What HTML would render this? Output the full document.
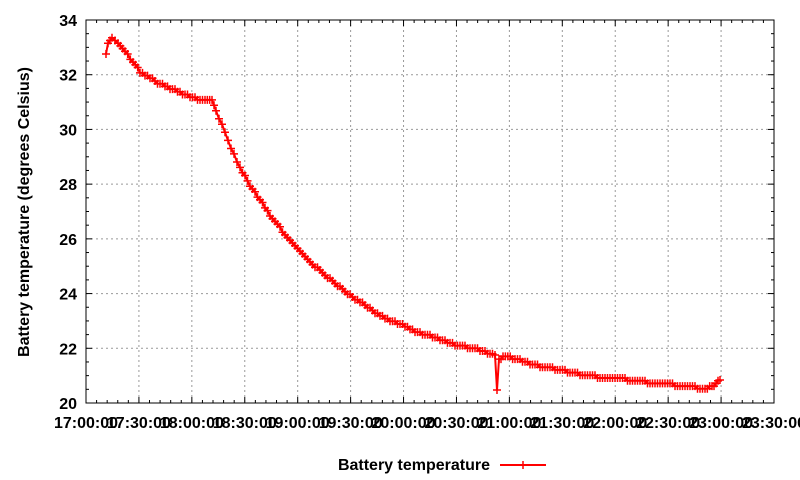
<!DOCTYPE html>
<html><head><style>body{margin:0;background:#fff}svg{display:block;font-family:"Liberation Sans",sans-serif;font-weight:bold}</style></head><body>
<svg id="s" width="800" height="480" xmlns="http://www.w3.org/2000/svg">
<g id="grid" stroke="#999" stroke-dasharray="2,3" stroke-width="1"></g>
<rect x="86" y="20" width="688" height="383" fill="none" stroke="#000"/>
<g id="ticks" stroke="#000"></g>
<g id="labels" font-size="16" fill="#000"></g>
<text transform="translate(29,212) rotate(-90)" text-anchor="middle" font-size="16">Battery temperature (degrees Celsius)</text>
<text x="490" y="470" text-anchor="end" font-size="16">Battery temperature</text>
<line x1="500" y1="465" x2="546" y2="465" stroke="red" stroke-width="2"/>
<path d="M519 465h8M523 461v8" stroke="red" stroke-width="1.5"/>
<polyline id="c" fill="none" stroke="red" stroke-width="2"/>
<path id="m" stroke="red" stroke-width="1.5" fill="none"/>
</svg>
<script>
var ns="http://www.w3.org/2000/svg";
function el(p,t,a,txt){var e=document.createElementNS(ns,t);for(var k in a)e.setAttribute(k,a[k]);if(txt)e.textContent=txt;document.getElementById(p).appendChild(e);}
var L=86,R=774,T=20,B=403;
for(var i=0;i<=7;i++){var y=B-i*(B-T)/7;
 if(i>0&&i<7)el("grid","line",{x1:L,x2:R,y1:y,y2:y});
 el("ticks","line",{x1:L,x2:L+6,y1:y,y2:y});el("ticks","line",{x1:R,x2:R-6,y1:y,y2:y});
 if(i<7)for(var j=1;j<4;j++){var yy=y-j*(B-T)/28;el("ticks","line",{x1:L,x2:L+3,y1:yy,y2:yy});el("ticks","line",{x1:R,x2:R-3,y1:yy,y2:yy});}
 el("labels","text",{x:L-9,y:y+6,"text-anchor":"end"},String(20+2*i));}
var xl=["17:00:00","17:30:00","18:00:00","18:30:00","19:00:00","19:30:00","20:00:00","20:30:00","21:00:00","21:30:00","22:00:00","22:30:00","23:00:00","23:30:00"];
var dx=(R-L)/13;
for(var i=0;i<=13;i++){var x=L+i*dx;
 if(i>0&&i<13)el("grid","line",{x1:x,x2:x,y1:T,y2:B});
 el("ticks","line",{x1:x,x2:x,y1:B,y2:B-6});el("ticks","line",{x1:x,x2:x,y1:T,y2:T+6});
 if(i<13)for(var j=1;j<5;j++){var xx=x+j*dx/5;el("ticks","line",{x1:xx,x2:xx,y1:B,y2:B-3});el("ticks","line",{x1:xx,x2:xx,y1:T,y2:T+3});}
 el("labels","text",{x:x,y:428,"text-anchor":"middle"},xl[i]);}
var P=[[106,53],[108,44],[112,38],[118,42],[125,52],[133,62],[140,72],[150,78],[160,84],[175,90],[185,95],[195,98],[205,101],[212,99],[216,112],[222,123],[228,140],[234,155],[240,168],[250,185],[260,200],[270,215],[280,228],[290,240],[300,252],[310,262],[320,270],[330,279],[340,287],[350,295],[360,302],[370,309],[380,315],[390,320],[400,324],[410,329],[420,333],[430,336],[440,339],[450,343],[460,346],[475,348],[485,352],[495,355],[497,390],[499,360],[503,357],[515,358],[525,362],[540,366],[555,369],[570,372],[585,375],[600,377],[615,378],[630,380],[645,382],[660,383],[675,385],[690,387],[705,388],[712,387],[716,384],[720,380]];
var pts=[],md="";
for(var i=0;i<P.length-1;i++){var a=P[i],b=P[i+1],n=Math.max(1,Math.round(Math.abs(b[0]-a[0])/2.5));
 if(i==43||i==44){pts.push(a);md+="M"+(a[0]-4)+" "+a[1]+"h8M"+a[0]+" "+(a[1]-4)+"v8";continue;}
 for(var k=0;k<n;k++){var x=a[0]+(b[0]-a[0])*k/n,y=a[1]+(b[1]-a[1])*k/n;y=Math.round(y/2.7)*2.7;pts.push([x,y]);md+="M"+(x-4)+" "+y+"h8M"+x+" "+(y-4)+"v8";}}
var e=P[P.length-1];pts.push(e);md+="M"+(e[0]-4)+" "+e[1]+"h8M"+e[0]+" "+(e[1]-4)+"v8";
document.getElementById("c").setAttribute("points",pts.map(function(p){return p.join(",")}).join(" "));
document.getElementById("m").setAttribute("d",md);
</script>
</body></html>
